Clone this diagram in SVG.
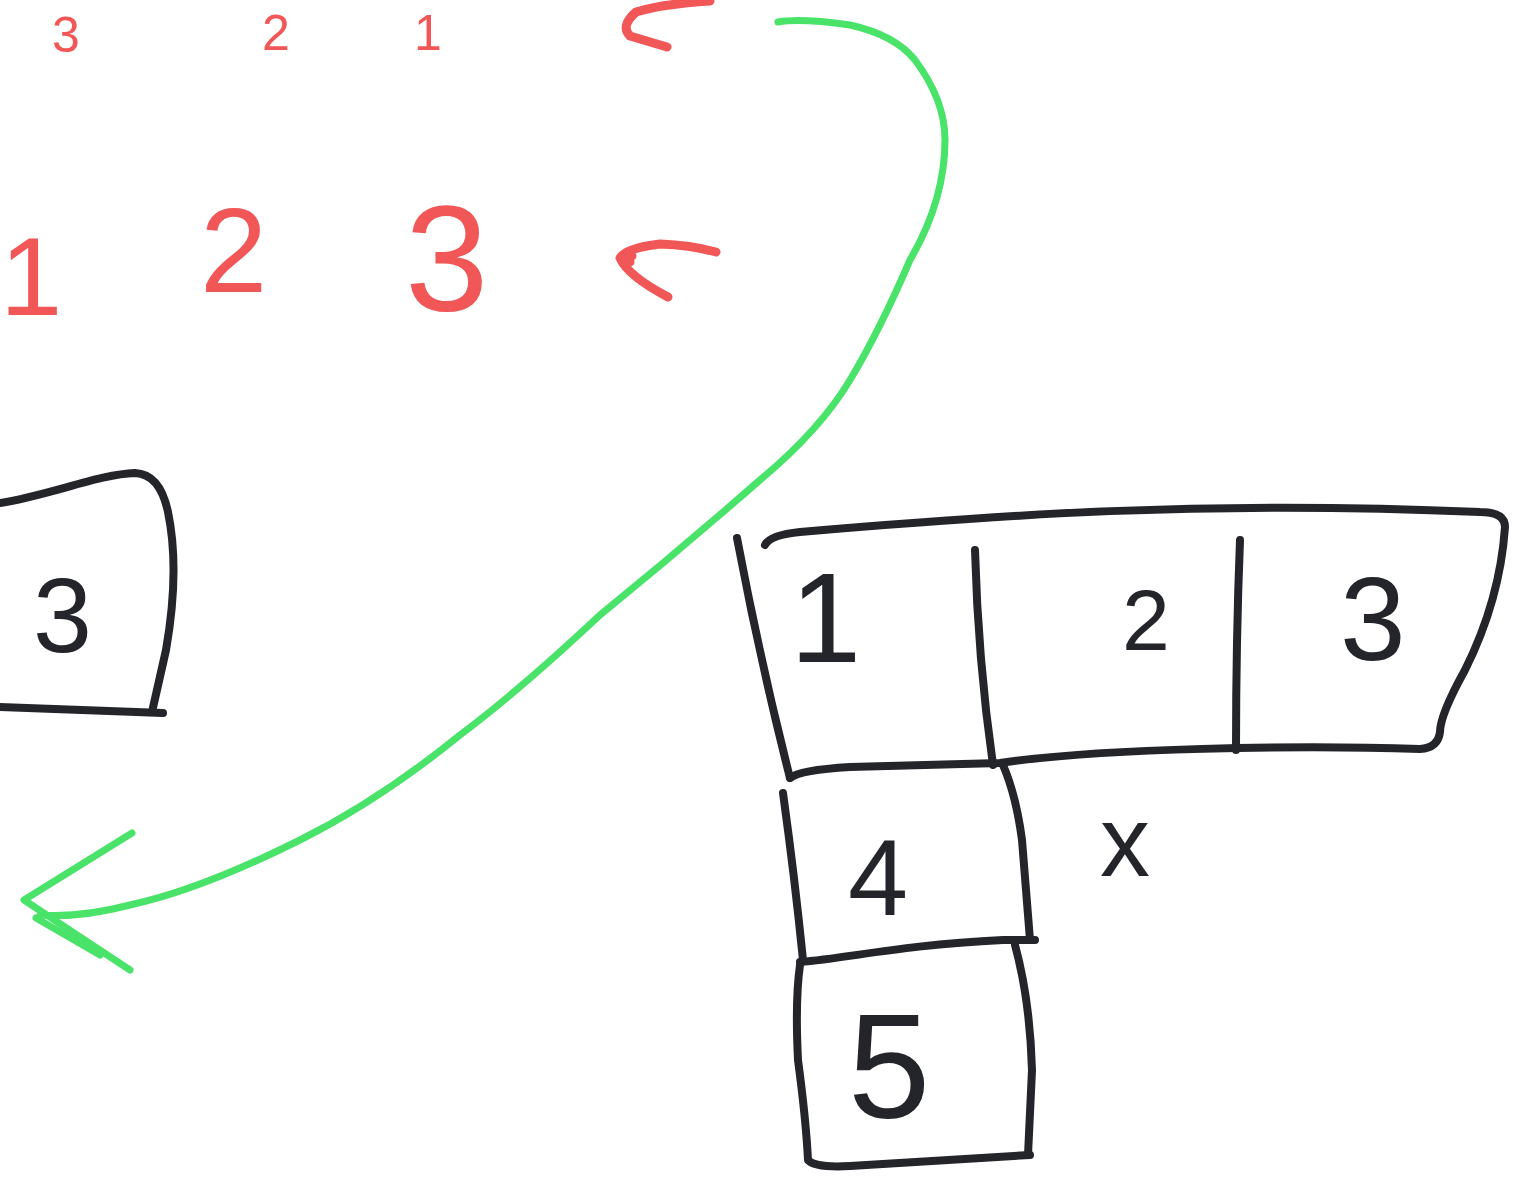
<svg xmlns="http://www.w3.org/2000/svg" width="1517" height="1179" viewBox="0 0 1517 1179">
<style>
.k{fill:none;stroke:#24252a;stroke-width:8;stroke-linecap:round;stroke-linejoin:round}
.r{fill:none;stroke:#f25757;stroke-width:9;stroke-linecap:round;stroke-linejoin:round}
.g{fill:none;stroke:#4ae36a;stroke-width:7;stroke-linecap:round;stroke-linejoin:round}
.tk{font-family:"Liberation Sans",Arial,sans-serif;fill:#24252a}
.tr{font-family:"Liberation Sans",Arial,sans-serif;fill:#f25757}
</style>
<rect width="1517" height="1179" fill="#ffffff"/>
<g id="red-top">
<text class="tr" x="52" y="52" font-size="50">3</text>
<text class="tr" x="262" y="50" font-size="50">2</text>
<text class="tr" x="414" y="50" font-size="50">1</text>
<path class="r" d="M710,1 Q662,4 636,12 Q620,26 630,36 L667,47"/>
</g>
<g id="red-row">
<text class="tr" x="0" y="315" font-size="112">1</text>
<text class="tr" x="200" y="292" font-size="121">2</text>
<text class="tr" x="405" y="311" font-size="150">3</text>
<path class="r" d="M716,252 Q690,245 660,244 Q626,248 620,258 Q628,276 668,297"/>
<path class="r" d="M630,262 Q628,258 632,256"/>
</g>
<g id="box-left">
<path class="k" d="M0,503 C50,495 100,474 135,473 Q160,474 168,512 Q180,570 166,650 L152,712"/>
<path class="k" d="M0,707 L163,713"/>
<text class="tk" x="33" y="652" font-size="106">3</text>
</g>
<g id="row-top">
<path class="k" d="M765,545 Q770,535 800,532 C1000,515 1200,500 1480,512 Q1505,512 1505,527 Q1500,600 1465,670 Q1440,715 1440,732 Q1438,748 1420,749 C1300,745 1100,748 1000,763 L850,767 Q800,770 790,778"/>
<path class="k" d="M737,538 Q760,660 790,778"/>
<path class="k" d="M975,550 Q978,660 993,765"/>
<path class="k" d="M1240,540 Q1236,640 1236,750"/>
<text class="tk" x="790" y="662" font-size="128">1</text>
<text class="tk" x="1122" y="650" font-size="86">2</text>
<text class="tk" x="1340" y="660" font-size="118">3</text>
</g>
<g id="cell-4">
<path class="k" d="M783,793 Q795,880 803,960"/>
<path class="k" d="M1003,765 Q1016,795 1022,840 L1030,940"/>
<path class="k" d="M1035,940 L1003,940 C900,945 850,958 800,962"/>
<text class="tk" x="848" y="915" font-size="108">4</text>
</g>
<g id="cell-5">
<path class="k" d="M800,965 Q795,1000 798,1060 Q806,1120 808,1160 Q815,1168 850,1166 L1030,1155"/>
<path class="k" d="M1015,945 Q1030,1000 1032,1070 L1028,1155"/>
<text class="tk" x="848" y="1118" font-size="148">5</text>
</g>
<g id="mark-x">
<text class="tk" x="1100" y="876" font-size="100">x</text>
</g>
<g id="connectors">
<path class="g" d="M778,22 Q800,18 850,25 Q895,35 915,60 Q945,100 945,140 Q945,200 910,260 Q880,330 850,380 Q820,430 760,480 Q680,550 600,615 Q520,690 460,735 Q380,800 300,840 Q200,890 130,905 Q80,918 40,915"/>
<path class="g" d="M132,833 L24,900 L130,970"/>
<path class="g" d="M36,918 L100,955"/>
</g>
</svg>
